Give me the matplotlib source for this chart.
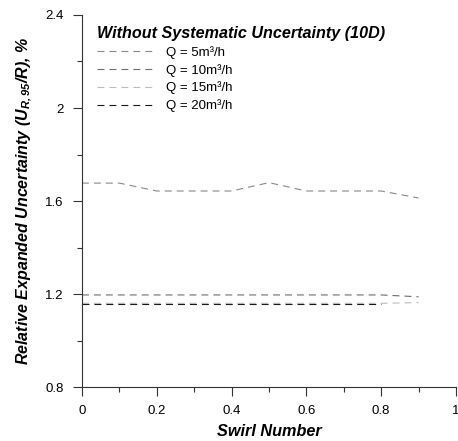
#!/usr/bin/env python3
"""Relative expanded uncertainty vs swirl number, without systematic uncertainty (10D)."""

import matplotlib
matplotlib.use("Agg")
import matplotlib.pyplot as plt

plt.rcParams["font.family"] = ["Liberation Sans", "DejaVu Sans"]
plt.rcParams["mathtext.fontset"] = "custom"
plt.rcParams["mathtext.it"] = "Liberation Sans:bold:italic"
plt.rcParams["mathtext.rm"] = "Liberation Sans:bold:italic"
plt.rcParams["mathtext.bf"] = "Liberation Sans:bold"
plt.rcParams["lines.scale_dashes"] = False

# --- data ---
swirl = [0.0, 0.1, 0.2, 0.3, 0.4, 0.5, 0.6, 0.7, 0.8, 0.9]
u_q5 = [1.677, 1.677, 1.643, 1.643, 1.643, 1.679, 1.643, 1.643, 1.643, 1.613]
u_q10 = [1.196, 1.196, 1.196, 1.196, 1.196, 1.196, 1.196, 1.196, 1.196, 1.188]
u_q15 = [1.160, 1.160, 1.160, 1.160, 1.160, 1.160, 1.160, 1.160, 1.160, 1.163]
swirl_q20 = [0.0, 0.1, 0.2, 0.3, 0.4, 0.5, 0.6, 0.7, 0.8]
u_q20 = [1.157, 1.157, 1.157, 1.157, 1.157, 1.157, 1.157, 1.157, 1.157]

labels = ["Q = 5m\u00b3/h", "Q = 10m\u00b3/h", "Q = 15m\u00b3/h", "Q = 20m\u00b3/h"]
colors = ["#8a8a8a", "#6e6e6e", "#bdbdbd", "#1a1a1a"]

fig = plt.figure(figsize=(4.58, 4.41), dpi=100)
ax = fig.add_axes([0.179, 0.1224, 0.8166, 0.8436])

dash = (0, (5, 3.6))
series = [(swirl, u_q5), (swirl, u_q10), (swirl, u_q15), (swirl_q20, u_q20)]
for (xs, ys), lab, col in zip(series, labels, colors):
    ax.plot(xs, ys, linestyle=dash, lw=0.8, color=col, label=lab)

ax.set_xlim(0, 1)
ax.set_ylim(0.8, 2.4)
ax.set_xticks([0, 0.2, 0.4, 0.6, 0.8, 1])
ax.set_xticklabels(["0", "0.2", "0.4", "0.6", "0.8", "1"])
ax.set_xticks([0.1, 0.3, 0.5, 0.7, 0.9], minor=True)
ax.set_yticks([0.8, 1.2, 1.6, 2.0, 2.4])
ax.set_yticklabels(["0.8", "1.2", "1.6", "2", "2.4"])
ax.set_yticks([1.0, 1.4, 1.8, 2.2], minor=True)

for side in ["top", "right"]:
    ax.spines[side].set_visible(False)
for side in ["left", "bottom"]:
    ax.spines[side].set_color("#333333")
    ax.spines[side].set_linewidth(0.8)

ax.tick_params(which="major", direction="out", length=6.5, width=0.8,
               color="#333333", labelsize=9.5, pad=6.5)
ax.tick_params(which="minor", direction="out", length=3.8, width=0.8,
               color="#333333")

ax.set_xlabel("Swirl Number", fontsize=11.7, fontweight="bold", style="italic",
              labelpad=5)
ax.set_ylabel(r"Relative Expanded Uncertainty ($U_{R,95}$/R), %", fontsize=11.5,
              fontweight="bold", style="italic", labelpad=8)

leg = ax.legend(loc="upper left", bbox_to_anchor=(0.02, 0.992), frameon=False,
                fontsize=9.5, handlelength=4.4, handletextpad=0.8,
                labelspacing=0.38, borderaxespad=0.2,
                title="Without Systematic Uncertainty (10D)",
                title_fontproperties={"size": 11.6, "weight": "bold",
                                      "style": "italic"})
leg._legend_box.align = "left"

fig.savefig("out.png", dpi=100)
